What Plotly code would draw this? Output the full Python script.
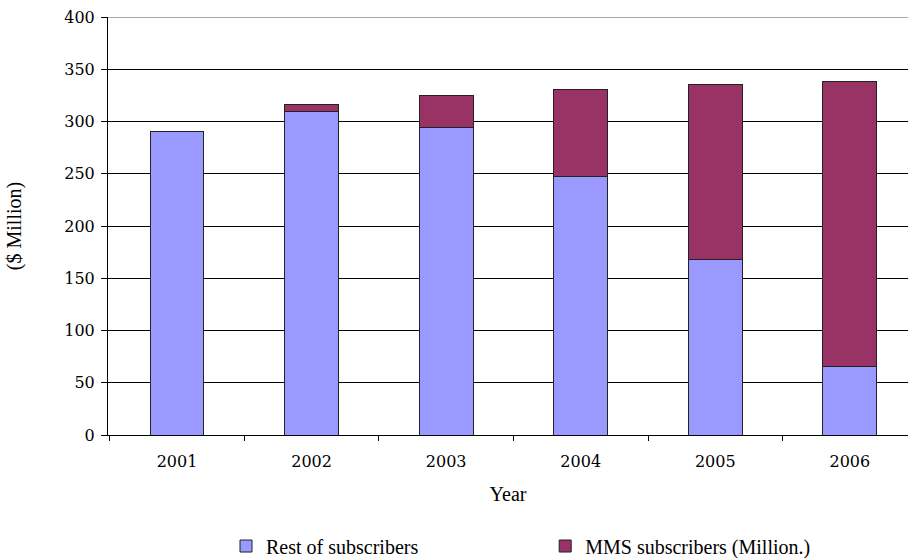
import plotly.graph_objects as go

years = ["2001", "2002", "2003", "2004", "2005", "2006"]
rest_subscribers = [290, 310, 294, 247, 168, 66]
mms_subscribers = [0, 6, 31, 84, 167, 272]
y_top = 400

TICK_FONT = "DejaVu Serif"
TEXT_FONT = "Liberation Serif"

fig = go.Figure()
fig.add_trace(go.Bar(
    x=years, y=rest_subscribers, name="Rest of subscribers",
    marker=dict(color="#9999FF", line=dict(color="#222222", width=1)),
    width=0.4, legend="legend",
))
fig.add_trace(go.Bar(
    x=years, y=mms_subscribers, name="MMS subscribers (Million.)",
    marker=dict(color="#993366", line=dict(color="#222222", width=1)),
    width=0.4, legend="legend2",
))

legend_common = dict(
    orientation="h", yanchor="middle", y=-0.2656, xanchor="left",
    font=dict(family=TEXT_FONT, size=20, color="black"),
    bgcolor="rgba(0,0,0,0)",
)

fig.update_layout(
    barmode="stack",
    width=908, height=558,
    margin=dict(l=108, r=0, t=17, b=123, autoexpand=False),
    paper_bgcolor="white", plot_bgcolor="white",
    font=dict(family=TICK_FONT, size=15, color="black"),
    showlegend=True,
    legend=dict(x=0.1475, **legend_common),
    legend2=dict(x=0.5465, **legend_common),
    xaxis=dict(
        type="category", range=[-0.513, 5.432], automargin=False,
        showline=True, linecolor="black", linewidth=1,
        ticks="outside", ticklen=5, tickcolor="black", tickson="boundaries",
        showgrid=False, ticklabelstandoff=12,
        tickfont=dict(family=TICK_FONT, size=16),
        title=dict(text="Year", font=dict(family=TEXT_FONT, size=20), standoff=16),
    ),
    yaxis=dict(
        range=[0, y_top], dtick=50, automargin=False,
        showline=True, linecolor="black", linewidth=1,
        ticks="outside", ticklen=6, tickcolor="black",
        showgrid=True, gridcolor="black", gridwidth=1,
        zeroline=False, ticklabelstandoff=3,
        tickfont=dict(family=TICK_FONT, size=16),
        title=dict(text="($ Million)", font=dict(family=TEXT_FONT, size=20), standoff=37),
    ),
    shapes=[dict(type="line", xref="paper", x0=0, x1=1, yref="y", y0=y_top, y1=y_top,
                 line=dict(color="#555555", width=1), layer="below")],
)

fig.write_html("out.html", post_script="document.body.style.margin='0px';",
               config={"displayModeBar": False})
